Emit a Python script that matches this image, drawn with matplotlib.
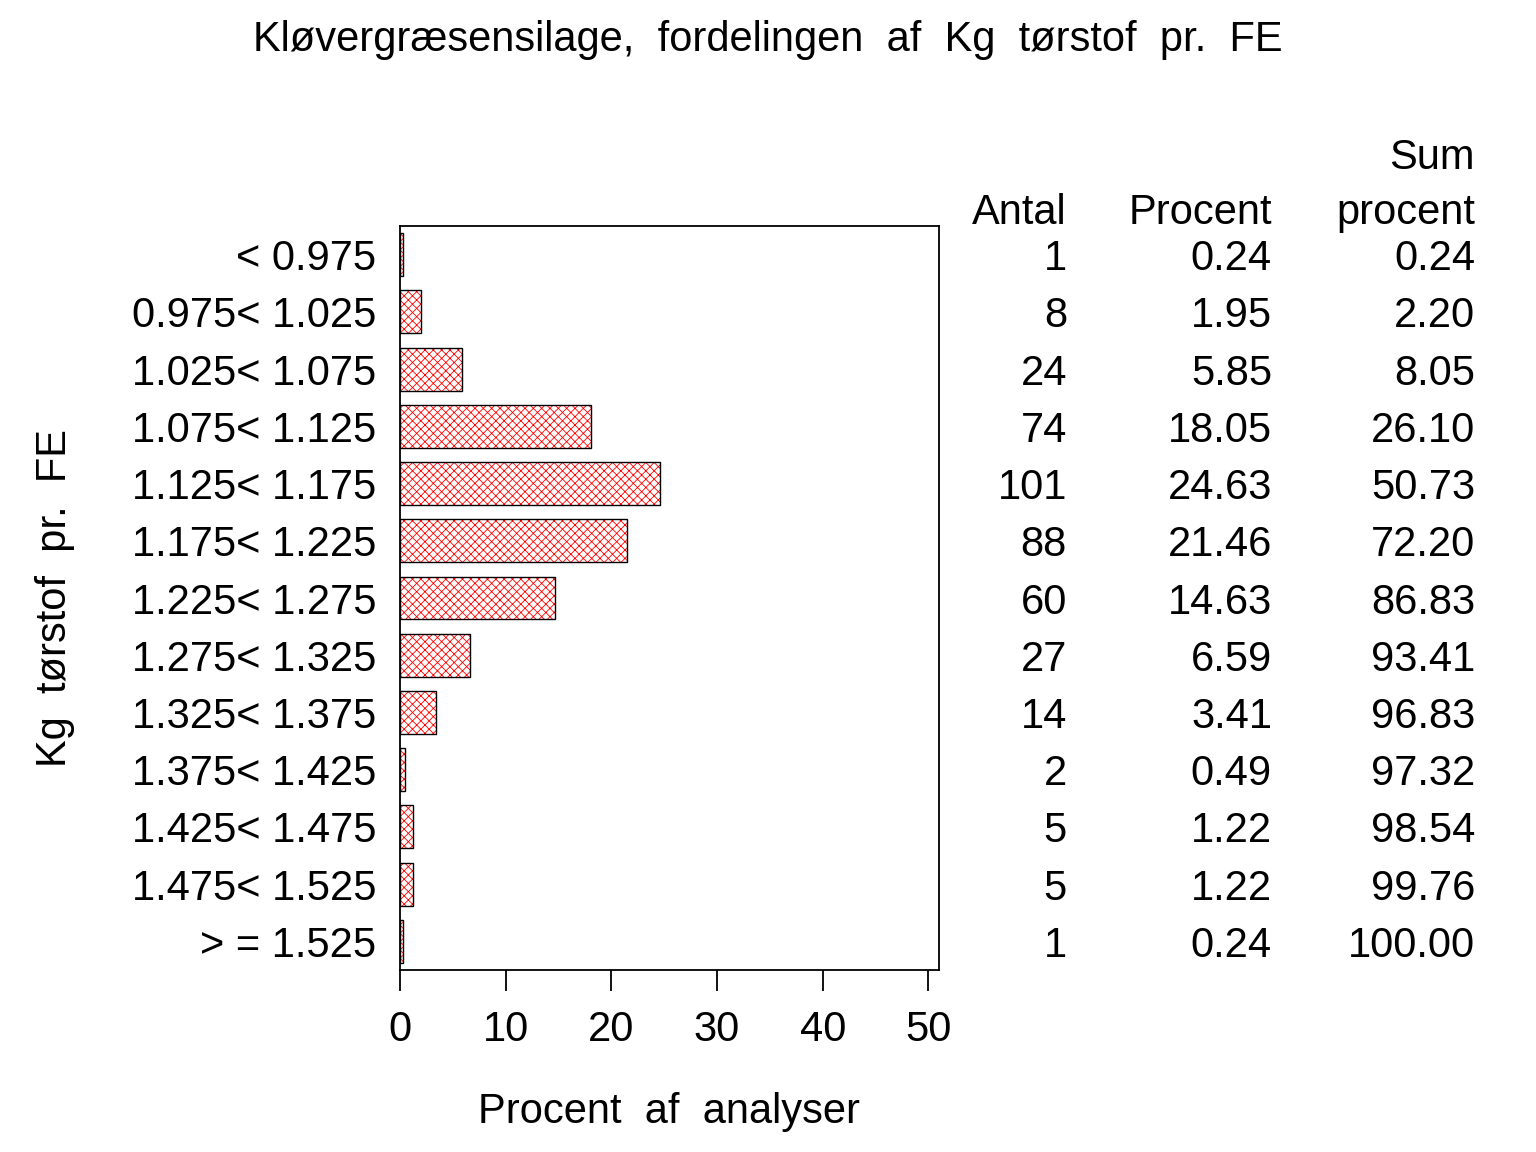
import numpy as np
import matplotlib.pyplot as plt

plt.rcParams['font.family'] = ['Liberation Sans', 'DejaVu Sans']
plt.rcParams['hatch.linewidth'] = 0.6

# Data
categories = ["< 0.975", "0.975< 1.025", "1.025< 1.075", "1.075< 1.125",
              "1.125< 1.175", "1.175< 1.225", "1.225< 1.275", "1.275< 1.325",
              "1.325< 1.375", "1.375< 1.425", "1.425< 1.475", "1.475< 1.525",
              "> = 1.525"]
antal = [1, 8, 24, 74, 101, 88, 60, 27, 14, 2, 5, 5, 1]
procent = [0.24, 1.95, 5.85, 18.05, 24.63, 21.46, 14.63, 6.59, 3.41, 0.49, 1.22, 1.22, 0.24]
sum_procent = [0.24, 2.20, 8.05, 26.10, 50.73, 72.20, 86.83, 93.41, 96.83, 97.32, 98.54, 99.76, 100.00]
xticks = [0, 10, 20, 30, 40, 50]

fs = 30

fig = plt.figure(figsize=(15.36, 11.52), dpi=100)
ax = fig.add_axes([400/1536, 1 - 970/1152, 539/1536, 744/1152])

y = np.arange(len(categories))
# hatch in red, outline in black
ax.barh(y, procent, height=0.75, color='white', edgecolor='red', hatch='xxxx', linewidth=0)
ax.barh(y, procent, height=0.75, fill=False, edgecolor='black', linewidth=1)

ax.set_xlim(0, 51)
ax.set_ylim(len(categories) - 0.5, -0.5)
ax.set_xticks(xticks)
ax.set_xticklabels([str(t) for t in xticks])
ax.set_yticks(y)
ax.set_yticklabels(categories)
ax.tick_params(axis='x', direction='out', length=15, width=1.3, labelsize=fs, pad=14)
ax.tick_params(axis='y', length=0, labelsize=fs, pad=17)
for s in ax.spines.values():
    s.set_linewidth(1.3)

ax.set_xlabel("Procent  af  analyser", fontsize=fs, labelpad=30)
fig.text(55/1536, 1 - 598/1152, "Kg  tørstof  pr.  FE", rotation=90, fontsize=fs,
         ha='center', va='center')
fig.text(768/1536, 1 - 40/1152, "Kløvergræsensilage,  fordelingen  af  Kg  tørstof  pr.  FE",
         fontsize=fs, ha='center', va='center')

# table on the right
col_x = [1067, 1272, 1475]
trans = ax.get_yaxis_transform()
for i in range(len(categories)):
    vals = [str(antal[i]), f"{procent[i]:.2f}", f"{sum_procent[i]:.2f}"]
    for cx, v in zip(col_x, vals):
        ax.text((cx - 400) / 539, i, v, transform=trans, fontsize=fs,
                ha='right', va='center_baseline', clip_on=False)

fig.text(col_x[0]/1536, 1 - 213/1152, "Antal", fontsize=fs, ha='right', va='center')
fig.text(col_x[1]/1536, 1 - 213/1152, "Procent", fontsize=fs, ha='right', va='center')
fig.text(col_x[2]/1536, 1 - 158/1152, "Sum", fontsize=fs, ha='right', va='center')
fig.text(col_x[2]/1536, 1 - 213/1152, "procent", fontsize=fs, ha='right', va='center')

fig.savefig("out.png", dpi=100, facecolor='white')
